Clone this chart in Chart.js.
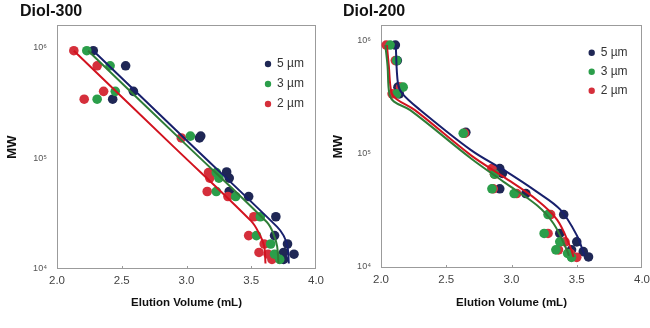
<!DOCTYPE html>
<html>
<head>
<meta charset="utf-8">
<script src="https://cdn.jsdelivr.net/npm/chart.js@4.4.0/dist/chart.umd.min.js"></script>
<style>
  body { margin: 0; background: #fff; }
  .panel { position: absolute; top: 0; width: 325px; height: 328px; }
</style>
</head>
<body>
<div class="panel" style="left:0"><canvas id="diol300" width="325" height="328"></canvas></div>
<div class="panel" style="left:325px"><canvas id="diol200" width="325" height="328"></canvas></div>
<script>
// series labels and colours, in legend order
const seriesLabels = ['5 µm', '3 µm', '2 µm'];
const dotColors = ['#1f2755', '#2b9e4a', '#d52f3b'];
const fitColors = ['#18206c', '#2f7d37', '#d2131f'];

const xTicks = [2.0, 2.5, 3.0, 3.5, 4.0];
const yTickValues = [1e4, 1e5, 1e6];
const yTickLabels = ['10⁴', '10⁵', '10⁶'];

// Diol-300 measured points (elution volume mL, MW)
const d300Vol5 = [2.28, 2.53, 2.59, 2.43, 3.10, 3.11, 3.31, 3.33, 3.33, 3.48, 3.69, 3.68, 3.78, 3.75, 3.83, 3.75];
const d300MW5 = [9.3e5, 6.8e5, 4.0e5, 3.4e5, 1.52e5, 1.58e5, 7.5e4, 6.6e4, 5.0e4, 4.5e4, 2.96e4, 2.0e4, 1.68e4, 1.41e4, 1.36e4, 1.22e4];
const d300Vol3 = [2.23, 2.41, 2.45, 2.31, 3.03, 3.23, 3.25, 3.23, 3.38, 3.57, 3.54, 3.65, 3.68, 3.72];
const d300MW3 = [9.3e5, 6.8e5, 4.0e5, 3.4e5, 1.58e5, 7.4e4, 6.6e4, 5.0e4, 4.5e4, 2.96e4, 2.0e4, 1.68e4, 1.36e4, 1.22e4];
const d300Vol2 = [2.13, 2.31, 2.36, 2.21, 2.96, 3.17, 3.18, 3.16, 3.32, 3.52, 3.48, 3.60, 3.56, 3.63, 3.66];
const d300MW2 = [9.3e5, 6.8e5, 4.0e5, 3.4e5, 1.52e5, 7.4e4, 6.6e4, 5.0e4, 4.5e4, 2.96e4, 2.0e4, 1.68e4, 1.41e4, 1.36e4, 1.22e4];

// Diol-300 calibration curves
const d300FitVol5 = [2.28, 3.00, 3.70, 3.75, 3.78, 3.79];
const d300FitMW5 = [9.3e5, 1.45e5, 2.4e4, 2.0e4, 1.6e4, 1.12e4];
const d300FitVol3 = [2.24, 3.00, 3.62, 3.67, 3.70, 3.71];
const d300FitMW3 = [9.3e5, 1.31e5, 2.65e4, 2.1e4, 1.6e4, 1.12e4];
const d300FitVol2 = [2.13, 2.90, 3.50, 3.56, 3.60, 3.61];
const d300FitMW2 = [9.3e5, 1.27e5, 2.7e4, 2.1e4, 1.6e4, 1.12e4];

// Diol-200 measured points
const d200Vol5 = [2.11, 2.125, 2.13, 2.14, 2.65, 2.91, 2.93, 2.91, 3.11, 3.40, 3.37, 3.50, 3.46, 3.55, 3.59];
const d200MW5 = [9.2e5, 6.7e5, 3.9e5, 3.4e5, 1.55e5, 7.4e4, 6.7e4, 4.9e4, 4.45e4, 2.9e4, 1.97e4, 1.66e4, 1.41e4, 1.36e4, 1.22e4];
const d200Vol3 = [2.07, 2.12, 2.17, 2.12, 2.63, 2.87, 2.85, 3.02, 3.28, 3.25, 3.37, 3.34, 3.43, 3.46];
const d200MW3 = [9.2e5, 6.7e5, 3.9e5, 3.4e5, 1.52e5, 6.6e4, 4.9e4, 4.45e4, 2.9e4, 1.97e4, 1.66e4, 1.41e4, 1.31e4, 1.21e4];
const d200Vol2 = [2.04, 2.11, 2.15, 2.085, 2.64, 2.85, 2.87, 2.86, 3.04, 3.30, 3.28, 3.41, 3.36, 3.45, 3.50];
const d200MW2 = [9.2e5, 6.7e5, 3.9e5, 3.4e5, 1.52e5, 7.4e4, 6.6e4, 4.9e4, 4.45e4, 2.9e4, 1.97e4, 1.66e4, 1.41e4, 1.31e4, 1.21e4];

// Diol-200 calibration curves
const d200FitVol5 = [2.113, 2.13, 2.165, 2.30, 2.69, 2.94, 3.195, 3.374, 3.50, 3.56];
const d200FitMW5 = [9.2e5, 4.2e5, 3.4e5, 2.45e5, 1.08e5, 7.2e4, 4.6e4, 3.2e4, 1.9e4, 1.25e4];
const d200FitVol3 = [2.033, 2.05, 2.064, 2.10, 2.224, 2.69, 2.94, 3.195, 3.323, 3.425, 3.44];
const d200FitMW3 = [9.2e5, 6.0e5, 3.4e5, 2.9e5, 2.44e5, 9.1e4, 5.65e4, 3.5e4, 2.4e4, 1.4e4, 1.25e4];
const d200FitVol2 = [2.045, 2.06, 2.08, 2.12, 2.26, 2.69, 2.94, 3.195, 3.35, 3.45, 3.476];
const d200FitMW2 = [9.2e5, 6.0e5, 3.5e5, 3.05e5, 2.44e5, 9.7e4, 6.25e4, 3.9e4, 2.6e4, 1.5e4, 1.22e4];

const FONT = "'Liberation Sans', Arial, sans-serif";

function pairs(xs, ys) {
    return xs.map((x, i) => ({ x: x, y: ys[i] }));
}

// grey frame around the plot area, with small inward ticks on the x axis
const plotBox = {
    id: 'plotBox',
    beforeDatasetsDraw(chart) {
        const a = chart.chartArea;
        const ctx = chart.ctx;
        const xs = chart.scales.x;
        ctx.save();
        ctx.strokeStyle = '#9b9b9b';
        ctx.lineWidth = 1;
        ctx.strokeRect(Math.round(a.left) + 0.5, Math.round(a.top) + 0.5,
            Math.round(a.width) - 1, Math.round(a.height) - 1);
        ctx.beginPath();
        xTicks.slice(1, -1).forEach(v => {
            const px = Math.round(xs.getPixelForValue(v)) + 0.5;
            ctx.moveTo(px, a.bottom);
            ctx.lineTo(px, a.bottom - 3);
        });
        ctx.stroke();
        ctx.restore();
    }
};

// put the legend inside the plot, top right
const legendSpot = {
    id: 'legendSpot',
    afterLayout(chart, args, opts) {
        if (!chart.legend) return;
        chart.legend.left = opts.x;
        chart.legend.top = opts.y;
    }
};

function noEdgePadding(s) {
    s.paddingLeft = 0;
    s.paddingRight = 0;
    s.paddingTop = 0;
    s.paddingBottom = 0;
}

function makeChart(id, cfg) {
    const datasets = [];
    cfg.points.forEach((p, i) => {
        datasets.push({
            type: 'scatter',
            label: seriesLabels[i],
            data: pairs(p[0], p[1]),
            backgroundColor: dotColors[i],
            borderWidth: 0,
            pointRadius: 4.8,
            order: [3, 1, 2][i]
        });
    });
    cfg.fits.forEach((f, i) => {
        datasets.push({
            type: 'line',
            label: 'fit ' + seriesLabels[i],
            data: pairs(f[0], f[1]),
            borderColor: fitColors[i],
            borderWidth: 2,
            pointRadius: 0,
            tension: 0.35,
            fill: false,
            order: 0
        });
    });

    new Chart(document.getElementById(id), {
        type: 'scatter',
        data: { datasets: datasets },
        plugins: [plotBox, legendSpot],
        options: {
            responsive: false,
            animation: false,
            layout: { padding: { left: cfg.padLeft, right: cfg.padRight, top: 0, bottom: 0 } },
            plugins: {
                title: {
                    display: true,
                    text: cfg.title,
                    align: 'start',
                    color: '#111',
                    font: { family: FONT, size: 16, weight: 'bold' },
                    padding: { top: 2, bottom: 4 }
                },
                legend: {
                    position: 'chartArea',
                    align: 'start',
                    labels: {
                        usePointStyle: true,
                        pointStyle: 'circle',
                        boxWidth: 6,
                        boxHeight: 4.5,
                        padding: cfg.legendPad,
                        color: '#333',
                        font: { family: FONT, size: 12 },
                        filter: (item) => item.datasetIndex < 3,
                        sort: (a, b) => a.datasetIndex - b.datasetIndex
                    }
                },
                legendSpot: { x: cfg.legendX, y: cfg.legendY },
                tooltip: { enabled: false }
            },
            scales: {
                x: {
                    type: 'linear',
                    min: 2,
                    max: 4,
                    afterBuildTicks: (s) => { s.ticks = xTicks.map(v => ({ value: v })); },
                    afterFit: (s) => { s.height = cfg.xHeight; noEdgePadding(s); },
                    grid: { display: false, drawTicks: false },
                    border: { display: false },
                    ticks: {
                        padding: 5,
                        color: '#444',
                        font: { family: FONT, size: 11.5 },
                        callback: (v) => v.toFixed(1)
                    },
                    title: {
                        display: true,
                        text: 'Elution Volume (mL)',
                        color: '#111',
                        font: { family: FONT, size: 11.5, weight: 'bold' },
                        padding: { top: 0, bottom: 18 }
                    }
                },
                y: {
                    type: 'logarithmic',
                    min: cfg.yMin,
                    max: cfg.yMax,
                    afterBuildTicks: (s) => { s.ticks = yTickValues.map(v => ({ value: v })); },
                    afterFit: (s) => { s.width = cfg.yWidth; noEdgePadding(s); },
                    grid: { display: false, drawTicks: false },
                    border: { display: false },
                    ticks: {
                        padding: 10,
                        color: '#555',
                        font: { family: FONT, size: 9 },
                        callback: (v, i) => yTickLabels[i]
                    },
                    title: {
                        display: true,
                        text: 'MW',
                        color: '#111',
                        font: { family: FONT, size: 13, weight: 'bold' },
                        padding: { top: cfg.yTitlePad, bottom: 0 }
                    }
                }
            }
        }
    });
}

makeChart('diol300', {
    title: 'Diol-300',
    points: [[d300Vol5, d300MW5], [d300Vol3, d300MW3], [d300Vol2, d300MW2]],
    fits: [[d300FitVol5, d300FitMW5], [d300FitVol3, d300FitMW3], [d300FitVol2, d300FitMW2]],
    padLeft: 20, padRight: 9, yWidth: 37, xHeight: 59, yTitlePad: -15.8,
    yMin: 1e4, yMax: 1.58e6,
    legendX: 257, legendY: 50, legendPad: 8
});

makeChart('diol200', {
    title: 'Diol-200',
    points: [[d200Vol5, d200MW5], [d200Vol3, d200MW3], [d200Vol2, d200MW2]],
    fits: [[d200FitVol5, d200FitMW5], [d200FitVol3, d200FitMW3], [d200FitVol2, d200FitMW2]],
    padLeft: 18, padRight: 8, yWidth: 38, xHeight: 60, yTitlePad: -12.8,
    yMin: 9.74e3, yMax: 1.38e6,
    legendX: 256.7, legendY: 39.7, legendPad: 7
});
</script>
</body>
</html>
